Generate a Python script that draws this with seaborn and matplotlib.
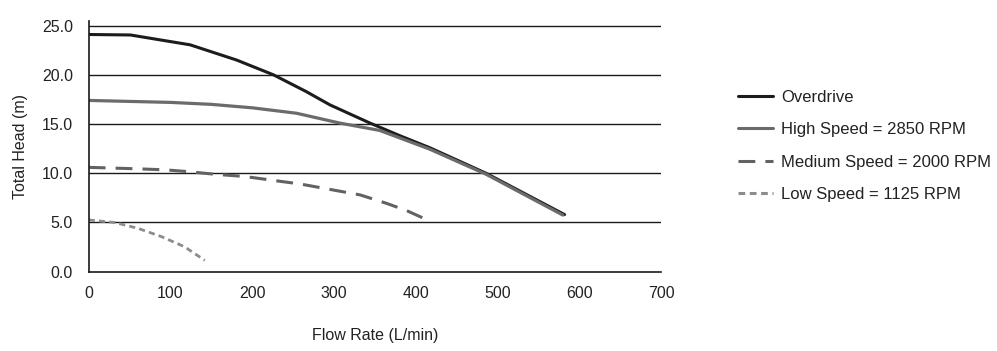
import matplotlib
matplotlib.use("Agg")
import matplotlib.pyplot as plt
import seaborn as sns
import pandas as pd

# Pump curves
overdrive_flow = [0, 51, 124, 181, 226, 266, 295, 344, 381, 417, 486, 582]
overdrive_head = [24.1, 24.05, 23.05, 21.5, 20.0, 18.3, 16.95, 15.1, 13.8, 12.6, 10.0, 5.8]

high_flow = [0, 100, 150, 200, 254, 307, 356, 417, 486, 580]
high_head = [17.4, 17.2, 17.0, 16.65, 16.1, 15.1, 14.35, 12.45, 9.9, 5.75]

medium_flow = [0, 60, 93, 121, 154, 191, 236, 258, 299, 332, 364, 389, 409]
medium_head = [10.6, 10.45, 10.35, 10.17, 9.9, 9.67, 9.16, 8.92, 8.3, 7.8, 6.95, 6.2, 5.45]

low_flow = [0, 32, 60, 89, 117, 142]
low_head = [5.26, 4.99, 4.41, 3.56, 2.54, 1.15]

series_names = [
    "Overdrive",
    "High Speed = 2850 RPM",
    "Medium Speed = 2000 RPM",
    "Low Speed = 1125 RPM",
]

frames = []
for name, fx, fy in zip(series_names,
                        [overdrive_flow, high_flow, medium_flow, low_flow],
                        [overdrive_head, high_head, medium_head, low_head]):
    frames.append(pd.DataFrame({"flow": fx, "head": fy, "series": name}))
df = pd.concat(frames, ignore_index=True)

sns.set_style("white")
plt.rcParams["font.family"] = ["Liberation Sans", "DejaVu Sans"]
plt.rcParams["font.size"] = 11.5

palette = {
    series_names[0]: "#1c1c1c",
    series_names[1]: "#6b6b6b",
    series_names[2]: "#626262",
    series_names[3]: "#8c8c8c",
}
dashes = {
    series_names[0]: "",
    series_names[1]: "",
    series_names[2]: (5.5, 3.3),
    series_names[3]: (2.2, 1.5),
}
widths = {
    series_names[0]: 2.2,
    series_names[1]: 2.3,
    series_names[2]: 2.2,
    series_names[3]: 2.0,
}

fig = plt.figure(figsize=(9.97, 3.51), dpi=100)
ax = fig.add_axes([0.089, 0.226, 0.574, 0.715])

sns.lineplot(data=df, x="flow", y="head", hue="series", style="series",
             palette=palette, dashes=dashes, hue_order=series_names,
             style_order=series_names, sort=False, estimator=None, ax=ax,
             linewidth=2.2)

for line, name in zip(ax.get_lines(), series_names):
    line.set_linewidth(widths[name])

ax.set_xlim(0, 700)
ax.set_ylim(0, 25.5)
ax.set_xticks(range(0, 701, 100))
ax.set_yticks([0, 5, 10, 15, 20, 25])
ax.set_yticklabels([f"{v:.1f}" for v in [0, 5, 10, 15, 20, 25]])

for v in [5, 10, 15, 20, 25]:
    ax.axhline(v, color="#1a1a1a", linewidth=1.0, zorder=0)

sns.despine(ax=ax)
for side in ["left", "bottom"]:
    ax.spines[side].set_color("#1a1a1a")
    ax.spines[side].set_linewidth(1.2)
ax.tick_params(axis="both", direction="out", length=5, width=1.2,
               color="#1a1a1a", labelsize=11.5, labelcolor="#222222")
ax.tick_params(axis="y", pad=6.5)
ax.tick_params(axis="x", pad=5.5)

ax.set_xlabel("Flow Rate (L/min)", fontsize=11.5, color="#222222", labelpad=19)
ax.set_ylabel("Total Head (m)", fontsize=11.5, color="#222222", labelpad=10)

handles, labels = ax.get_legend_handles_labels()
ax.get_legend().remove()
fig.legend(handles, labels, loc="upper left", bbox_to_anchor=(0.725, 0.787),
           frameon=False, fontsize=12, handlelength=2.1, handletextpad=0.5,
           labelspacing=1.05, labelcolor="#222222")

fig.savefig("out.png", dpi=100)
plt.close(fig)
